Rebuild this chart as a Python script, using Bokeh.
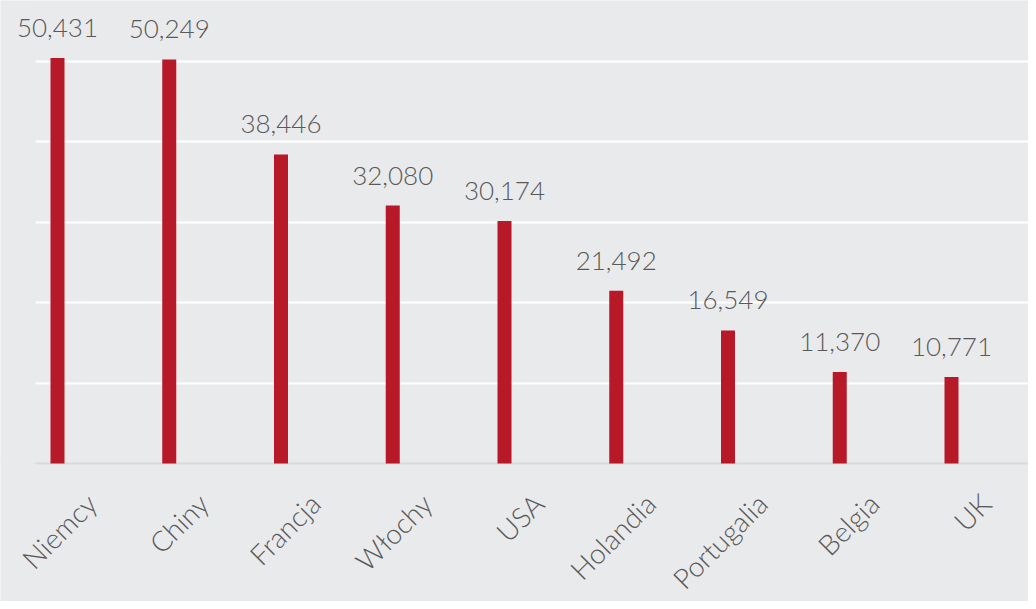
import math
from bokeh.plotting import figure
from bokeh.models import (Range1d, FixedTicker, ColumnDataSource, LabelSet, Span,
                          BoxAnnotation)
from bokeh.embed import file_html
from bokeh.resources import INLINE
from bokeh.core.properties import value

countries = ["Niemcy", "Chiny", "Francja", "Włochy", "USA", "Holandia", "Portugalia", "Belgia", "UK"]
values = [50431, 50249, 38446, 32080, 30174, 21492, 16549, 11370, 10771]
grid_ticks = [10000, 20000, 30000, 40000, 50000]
labels = ["{:,}".format(v) for v in values]
xpos = list(range(len(countries)))
zeros = [0] * len(countries)

BG = "#E9EAEC"
RED = "#B71928"
TXT = "#595959"
FONT = "Lato Light, Lato"

src = ColumnDataSource(dict(x=xpos, top=values, label=labels, base=zeros, name=countries))

W, H = 1028, 601
plot_left, base = 35, 463
px_per_cat = 111.75
first_center = 57
px_per_val = 80.4 / 10000

x_range = Range1d(-first_center / px_per_cat, (W - first_center) / px_per_cat)
y_range = Range1d(-(H - base) / px_per_val, base / px_per_val)

p = figure(width=W, height=H, output_backend="svg", toolbar_location=None,
           x_range=x_range, y_range=y_range,
           x_axis_location=None, y_axis_location=None,
           min_border_left=0, min_border_right=0, min_border_top=0, min_border_bottom=0)
p.background_fill_color = BG
p.border_fill_color = BG
p.outline_line_color = None

p.xgrid.visible = False
p.ygrid.ticker = FixedTicker(ticks=grid_ticks)
p.ygrid.grid_line_color = "white"
p.ygrid.grid_line_width = 2

baseline = Span(location=0, dimension="width", line_color="#D9D9DB", line_width=2,
                level="underlay")
p.add_layout(baseline)
mask = BoxAnnotation(left=0, right=plot_left, left_units="screen", right_units="screen",
                     fill_color=BG, fill_alpha=1.0, line_color=None, level="underlay")
p.add_layout(mask)

p.vbar(x="x", top="top", bottom=0, width=14 / px_per_cat, source=src,
       fill_color=RED, line_color=None)

vlabels = LabelSet(x="x", y="top", text="label", source=src, text_align="center",
                   text_baseline="alphabetic", y_offset=21, text_font=value(FONT),
                   text_font_size="26px", text_color=TXT)
p.add_layout(vlabels)

clabels = LabelSet(x="x", y="base", text="name", source=src, angle=math.pi / 4,
                   text_align="right", text_baseline="middle", x_offset=34, y_offset=-35,
                   text_font=value(FONT), text_font_size="28px", text_color=TXT)
p.add_layout(clabels)

open("out.html", "w").write(file_html(p, INLINE))
